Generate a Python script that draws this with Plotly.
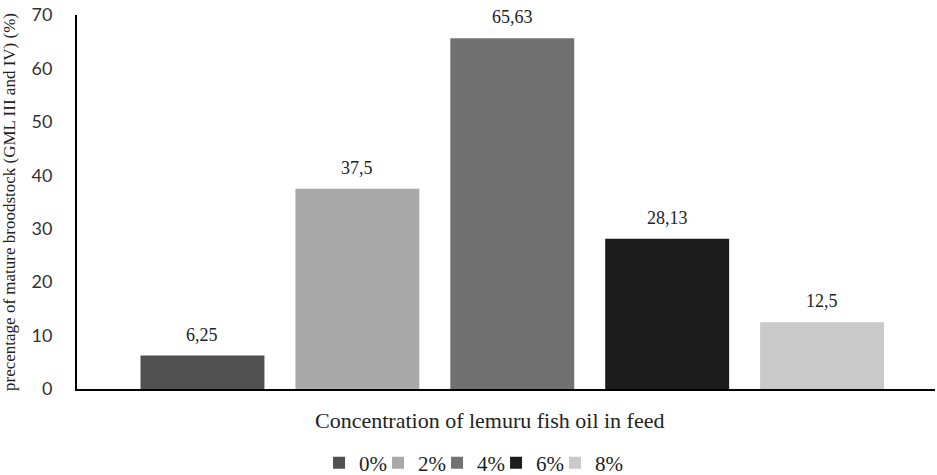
import plotly.graph_objects as go

categories = ["0%", "2%", "4%", "6%", "8%"]
values = [6.25, 37.5, 65.63, 28.13, 12.5]
labels = ["6,25", "37,5", "65,63", "28,13", "12,5"]
colors = ["#505050", "#a9a9a9", "#717171", "#1c1c1c", "#c9c9c9"]
x_title = "Concentration of lemuru fish oil in feed"
y_title = "precentage of mature broodstock (GML III and IV) (%)"

serif = "Liberation Serif"
sans = "Lato"

fig = go.Figure()
for cat, val, col in zip(categories, values, colors):
    fig.add_trace(go.Bar(x=[cat], y=[val], name=cat, width=0.8,
                         marker=dict(color=col, line=dict(width=0))))
# invisible spacer entry so the last legend text is not clipped
fig.add_trace(go.Bar(x=[categories[0]], y=[0], name=" ", width=0.8,
                     marker=dict(color="rgba(0,0,0,0)", line=dict(width=0)),
                     hoverinfo="skip"))

for cat, val, lab in zip(categories, values, labels):
    fig.add_annotation(x=cat, y=val, text=lab, showarrow=False,
                       yanchor="bottom", yshift=9,
                       font=dict(family=serif, size=18, color="#222"))

fig.add_annotation(xref="paper", yref="paper", x=0.481, y=-0.083,
                   xanchor="center", yanchor="middle", showarrow=False,
                   text=x_title, font=dict(family=serif, size=22, color="#222"))

fig.update_layout(
    width=937, height=475,
    margin=dict(l=77, r=2, t=15, b=86),
    paper_bgcolor="white", plot_bgcolor="white",
    barmode="overlay",
    showlegend=True,
    legend=dict(orientation="h", xref="container", yref="container",
                x=0.3405, xanchor="left", y=0.0253, yanchor="middle",
                font=dict(family=serif, size=21, color="#222"),
                itemwidth=30, entrywidth=14, entrywidthmode="pixels",
                traceorder="normal", bgcolor="rgba(0,0,0,0)"),
    xaxis=dict(type="category", categoryorder="array", categoryarray=categories,
               range=[-0.810, 4.729], showticklabels=False, showgrid=False,
               showline=True, linecolor="black", linewidth=2, zeroline=False,
               automargin=False),
    yaxis=dict(range=[0, 70], dtick=10, showgrid=False, zeroline=False,
               showline=True, linecolor="black", linewidth=2,
               ticks="", ticklabelstandoff=19, automargin=False,
               tickfont=dict(family=sans, size=18, color="#333"),
               title=dict(text=y_title,
                          font=dict(family=serif, size=17, color="#222"), standoff=20)),
)

fig.write_html("out.html", config={"displayModeBar": False},
               post_script="document.body.style.margin='0';")
